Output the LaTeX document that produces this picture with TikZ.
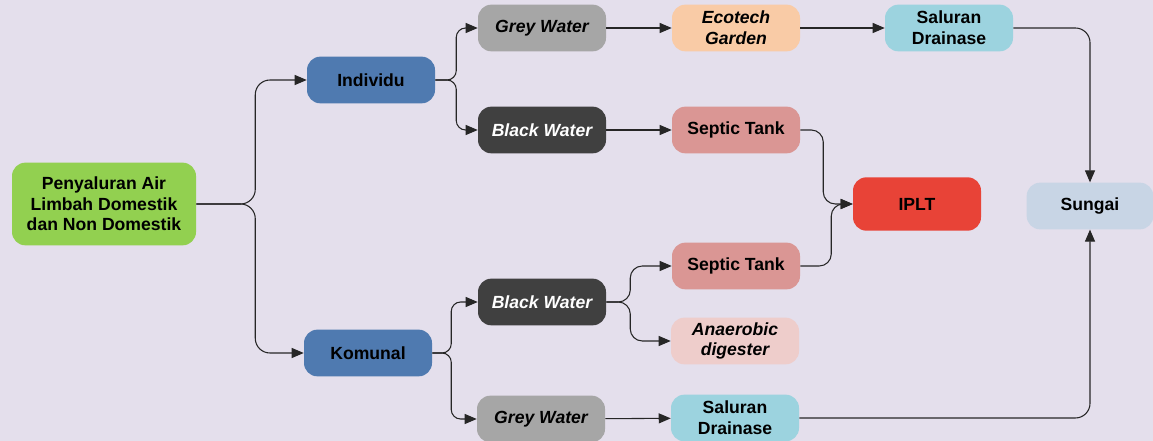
\documentclass[tikz,border=0pt]{standalone}
\usepackage{fontspec}
\setmainfont{Liberation Sans}
\usepackage{xcolor}
\usepackage{tikz}
\usetikzlibrary{arrows.meta,calc}
\definecolor{bgL}{HTML}{E4DFEC}
\definecolor{srcG}{HTML}{92D050}
\definecolor{grpB}{HTML}{4F7AB0}
\definecolor{greyW}{HTML}{A6A6A6}
\definecolor{blackW}{HTML}{404040}
\definecolor{ecoP}{HTML}{F9CBA6}
\definecolor{septR}{HTML}{DA9694}
\definecolor{drainC}{HTML}{9CD3DF}
\definecolor{ipltR}{HTML}{E84337}
\definecolor{sungaiB}{HTML}{C8D5E5}
\definecolor{anaeP}{HTML}{EECDCB}

\begin{document}
\begin{tikzpicture}[x=0.75pt, y=-0.75pt,
  box/.style={rounded corners=10pt, minimum width=96pt, minimum height=35pt, inner sep=0pt,
    align=center, font=\fontsize{13.2}{15.5}\selectfont\bfseries},
  ital/.style={font=\fontsize{13.2}{15.5}\selectfont\bfseries\itshape},
  flow/.style={-{Triangle[length=9pt,width=7.5pt]}, line width=0.8pt, black!85, rounded corners=11pt}]
\useasboundingbox (0,0) rectangle (1153,441);
\fill[bgL] (0,0) rectangle (1153,441);
% source and the two groups
\node[box, fill=srcG, minimum width=138pt, minimum height=62pt] (src) at (104,204) {Penyaluran Air\\ Limbah Domestik\\ dan Non Domestik};
\node[box, fill=grpB] (ind) at (371,80) {Individu};
\node[box, fill=grpB] (kom) at (368,353) {Komunal};
% individu branch
\node[box, ital, fill=greyW] (gwA) at (542,28) {Grey Water};
\node[box, ital, fill=blackW, text=white] (bwA) at (542,130) {Black Water};
\node[box, ital, fill=ecoP] (eco) at (736,28) {Ecotech\\ Garden};
\node[box, fill=septR] (stA) at (736,130) {Septic Tank};
\node[box, fill=drainC] (sdA) at (949,28) {Saluran\\ Drainase};
% komunal branch
\node[box, ital, fill=blackW, text=white] (bwB) at (542,302) {Black Water};
\node[box, ital, fill=greyW] (gwB) at (541,419) {Grey Water};
\node[box, fill=septR] (stB) at (736,266) {Septic Tank};
\node[box, ital, fill=anaeP] (ana) at (735,341) {Anaerobic\\ digester};
\node[box, fill=drainC] (sdB) at (735,418) {Saluran\\ Drainase};
% end points
\node[box, fill=ipltR, minimum height=40pt] (iplt) at (917,204) {IPLT};
\node[box, fill=sungaiB, minimum width=95pt] (sungai) at (1090,206) {Sungai};

\draw[flow] (src.east) -- ++(59,0) |- (ind.west);
\draw[flow] (src.east) -- ++(59,0) |- (kom.west);
\draw[flow, rounded corners=7pt] (ind.east) -- ++(21,0) |- (gwA.west);
\draw[flow, rounded corners=7pt] (ind.east) -- ++(21,0) |- (bwA.west);
\draw[flow, rounded corners=7pt] (kom.east) -- ++(19,0) |- (bwB.west);
\draw[flow, rounded corners=7pt] (kom.east) -- ++(19,0) |- (gwB.west);
\draw[flow, rounded corners=9pt] (bwB.east) -- ++(24,0) |- (stB.west);
\draw[flow, rounded corners=9pt] (bwB.east) -- ++(24,0) |- (ana.west);
\draw[flow] (gwA) -- (eco);
\draw[flow] (eco) -- (sdA);
\draw[flow] (bwA) -- (stA);
\draw[flow] (gwB) -- (sdB);
\draw[flow, rounded corners=9pt] (stA.east) -- ++(23,0) |- (iplt.west);
\draw[flow, rounded corners=9pt] (stB.east) -- ++(31,0) |- (iplt.west);
\draw[flow] (sdA.east) -| (sungai.north);
\draw[flow] (sdB.east) -| (sungai.south);
\end{tikzpicture}
\end{document}
